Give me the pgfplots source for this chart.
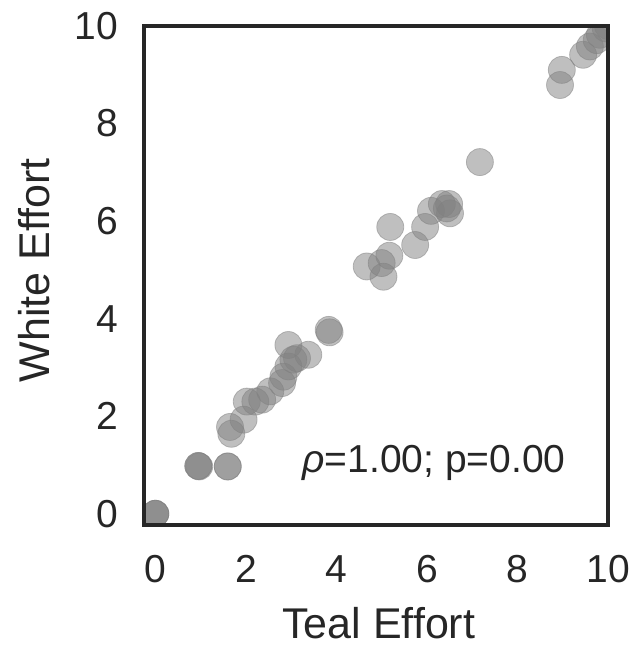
\documentclass[border=0pt]{standalone}
\usepackage{fontspec}
\setmainfont{Liberation Sans}
\usepackage{pgfplots}
\pgfplotsset{compat=1.18}

\definecolor{txt}{gray}{0.15}
\definecolor{dots}{gray}{0.5}

% effort scores given by the two raters
\pgfplotstableread{
x y
0.00 0.00
0.00 0.00
0.00 0.00
0.95 0.98
0.95 0.98
0.97 0.97
1.60 0.97
1.60 0.97
1.65 1.78
1.68 1.64
1.95 1.93
2.02 2.30
2.21 2.30
2.36 2.34
2.54 2.51
2.80 2.68
2.83 2.81
2.94 3.02
3.05 3.16
3.13 3.19
3.38 3.26
2.94 3.46
3.83 3.77
3.85 3.72
4.67 5.07
5.04 4.86
5.00 5.14
5.17 5.29
5.19 5.88
5.74 5.51
5.96 5.88
6.09 6.21
6.33 6.35
6.49 6.35
6.51 6.16
6.44 6.26
7.17 7.21
8.94 8.79
8.98 9.10
9.45 9.41
9.60 9.58
9.75 9.71
9.82 9.82
9.95 9.95
10.00 10.00
}\efforts

\begin{document}
\begin{tikzpicture}
\begin{axis}[
  name=ax,
  scale only axis,
  width=464pt, height=499pt,
  xmin=-0.25, xmax=10, ymin=-0.23, ymax=10,
  xtick={0,2,...,10}, ytick={0,2,...,10},
  major tick length=0pt,
  axis line style={line width=3.5pt, color=txt},
  /pgf/number format/assume math mode=true,
  ticklabel style={font=\fontsize{39}{40}\selectfont, text=txt, inner sep=0pt},
  xticklabel style={anchor=north, yshift=-30pt},
  yticklabel style={anchor=east, xshift=-26pt},
  xlabel={Teal Effort}, ylabel={White Effort},
  label style={font=\fontsize{43}{46}\selectfont, text=txt},
  xlabel style={at={(axis description cs:0.506,-0.2265)}, anchor=base},
  ylabel style={at={(axis description cs:-0.2026,0.51)}, anchor=base},
  clip=true,
  clip marker paths=true,
  axis on top,
]
\addplot[only marks, mark=*, mark size=13.5pt,
  mark options={fill=dots, draw=dots, fill opacity=0.5, draw opacity=0.5, line width=0.8pt}]
  table[x=x, y=y] {\efforts};
\node[anchor=base west, text=txt, font=\fontsize{39}{40}\selectfont, inner sep=0pt]
  at (axis cs:3.245,0.84) {\textit{ρ}=1.00; p=0.00};
\end{axis}
\pgfresetboundingbox
\path[use as bounding box] (ax.south west) ++(-144pt,-122pt) rectangle ++(638pt,647pt);
\end{tikzpicture}
\end{document}
